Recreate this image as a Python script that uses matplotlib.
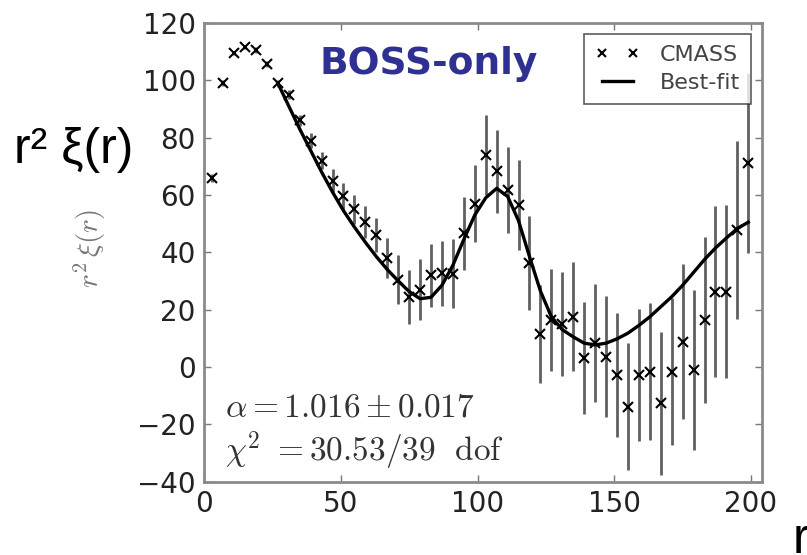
import numpy as np
import matplotlib
matplotlib.use("Agg")
import matplotlib.pyplot as plt

# bin centres in Mpc/h
r_bins = [3, 7, 11, 15, 19, 23, 27, 31, 35, 39,
          43, 47, 51, 55, 59, 63, 67, 71, 75, 79,
          83, 87, 91, 95, 99, 103, 107, 111, 115, 119,
          123, 127, 131, 135, 139, 143, 147, 151, 155, 159,
          163, 167, 171, 175, 179, 183, 187, 191, 195, 199]

# measured r^2 xi(r) for CMASS
xi_cmass = [65.9, 99.0, 109.5, 111.6, 110.6, 105.7, 99.0, 95.0, 86.0, 79.0,
            72.0, 65.0, 59.5, 55.0, 50.5, 46.0, 38.0, 30.5, 24.5, 27.0,
            32.0, 32.7, 32.5, 46.7, 57.0, 74.0, 68.2, 61.8, 56.5, 36.2,
            11.5, 16.4, 15.0, 17.6, 3.0, 8.3, 3.6, -2.8, -13.8, -2.8,
            -1.6, -12.7, -1.6, 8.8, -1.0, 16.4, 26.3, 26.3, 47.8, 71.1]

# 1-sigma errors
err_cmass = [1.5, 1.0, 0.8, 0.8, 0.9, 1.0, 1.2, 1.5, 2.0, 2.5,
             3.0, 4.0, 4.7, 5.0, 5.5, 6.0, 7.0, 8.5, 9.5, 10.5,
             11.0, 11.4, 12.0, 12.7, 13.4, 14.0, 14.5, 15.0, 15.7, 16.3,
             17.0, 17.7, 18.3, 19.0, 19.5, 20.5, 21.0, 21.5, 22.3, 23.0,
             24.0, 25.0, 25.5, 27.0, 28.0, 28.8, 29.7, 30.2, 31.0, 31.5]

# best-fit model over the fitting range
r_fit = [27, 31, 35, 39, 43, 47, 51, 55, 59, 63, 67,
         71, 75, 79, 83, 87, 91, 95, 99, 103, 107, 111,
         115, 119, 123, 127, 131, 135, 139, 143, 147, 151, 155,
         159, 163, 167, 171, 175, 179, 183, 187, 191, 195, 199]
xi_fit = [99.0, 91.0, 83.0, 75.5, 68.0, 61.0, 54.5, 48.8, 43.5, 38.5, 34.0,
          30.0, 26.3, 23.8, 24.3, 28.5, 35.5, 44.5, 53.0, 59.0, 62.3, 59.5,
          51.0, 38.5, 26.5, 17.5, 13.0, 10.5, 8.3, 7.7, 8.3, 9.8, 11.8,
          14.5, 17.5, 21.0, 24.5, 28.5, 33.0, 37.5, 41.5, 45.0, 48.3, 50.5]

x_ticks = [0, 50, 100, 150, 200]
y_ticks = [-40, -20, 0, 20, 40, 60, 80, 100, 120]

fig = plt.figure(figsize=(8.07, 5.55), dpi=100)
ax = fig.add_axes([0.2528, 0.1322, 0.6914, 0.8264])

# data with error bars
ax.errorbar(r_bins, xi_cmass, yerr=err_cmass, fmt="none", ecolor="#606060",
            elinewidth=2.0, capsize=0, zorder=1)
ax.plot(r_bins, xi_cmass, "x", color="k", ms=7, mew=1.5, label="CMASS", zorder=2)
ax.plot(r_fit, xi_fit, "-", color="k", lw=2.4, label="Best-fit", zorder=3)

ax.set_xlim(0, 204)
ax.set_ylim(-40, 120)
ax.set_xticks(x_ticks)
ax.set_yticks(y_ticks)
ax.tick_params(direction="in", top=True, right=True, length=5, width=1,
               color="#777777", labelsize=20, labelcolor="#222222", pad=6)
for s in ax.spines.values():
    s.set_color("#8a8a8a")
    s.set_linewidth(2)

leg = ax.legend(loc="upper right", numpoints=2, fontsize=16, fancybox=False,
                labelspacing=0.35, borderpad=0.5, handlelength=2.0,
                handletextpad=0.9, borderaxespad=0.5, markerscale=0.8)
leg.get_frame().set_edgecolor("#333333")
leg.get_frame().set_linewidth(1.2)
for t in leg.get_texts():
    t.set_color("#444444")

# fit results
ax.text(0.037, 0.142, r"$\alpha = 1.016 \pm 0.017$", transform=ax.transAxes,
        fontsize=24, color="#333333", math_fontfamily="cm", va="baseline")
ax.text(0.037, 0.044, r"$\chi^2\ = 30.53/39\ \ {\rm dof}$", transform=ax.transAxes,
        fontsize=24, color="#333333", math_fontfamily="cm", va="baseline")

fig.text(0.5316, 0.8847, "BOSS-only", fontsize=27, fontweight="bold",
         color="#2e3192", ha="center", va="center", family="DejaVu Sans")

# axis labels
fig.text(0.1115, 0.553, r"$r^2\,\xi(r)$", rotation=90, fontsize=21,
         color="#777777", math_fontfamily="cm", ha="center", va="center")
fig.text(0.0173, 0.7063, "r² ξ(r)", fontsize=36, family="Liberation Sans",
         color="k", va="baseline")
fig.text(0.9826, 0.0036, "r", fontsize=36, family="Liberation Sans",
         color="k", va="baseline")

fig.savefig("out.png", dpi=100)
